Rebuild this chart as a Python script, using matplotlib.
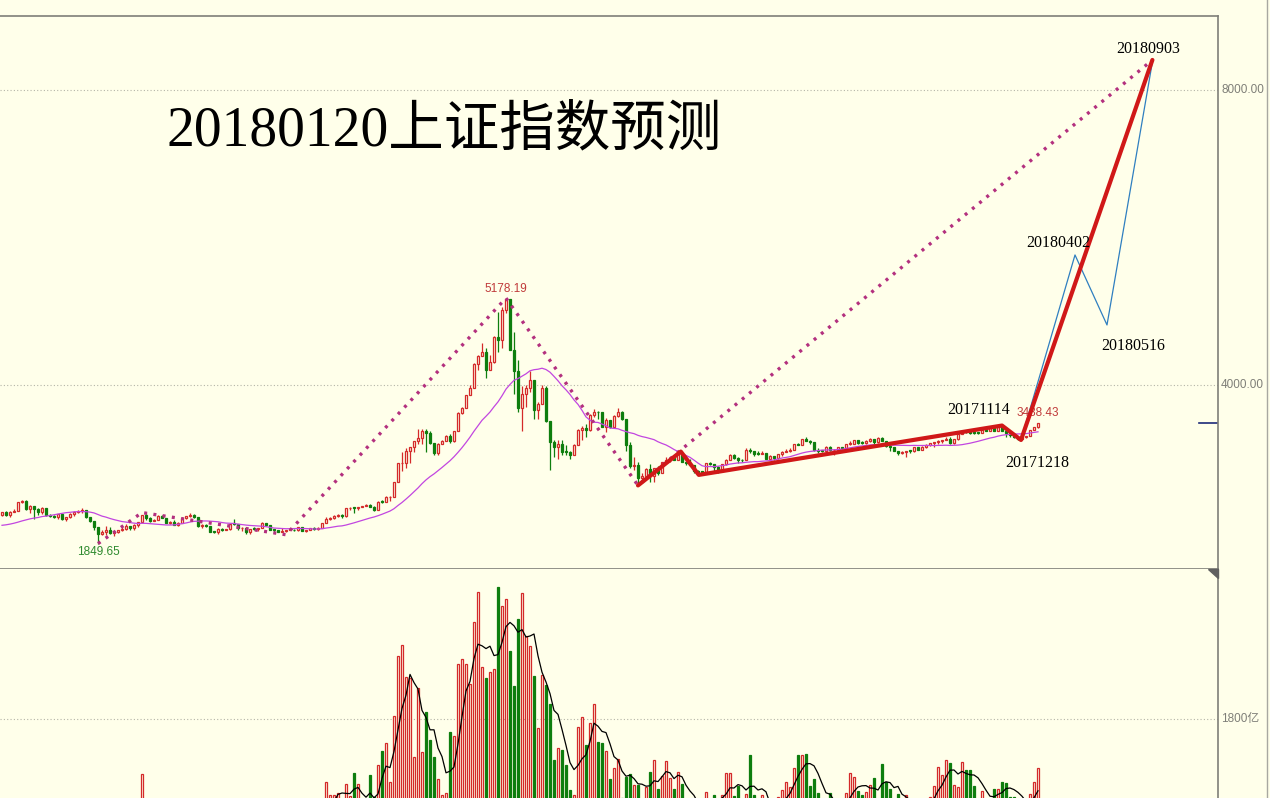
import numpy as np
import pandas as pd
import matplotlib
matplotlib.use("Agg")
import matplotlib.pyplot as plt
from matplotlib.lines import Line2D
from matplotlib.patches import Polygon
from matplotlib.transforms import blended_transform_factory

# weekly closes before 2013, only used to warm up the 20-week average
warmup_close = [2115, 2093, 2047, 2128, 2105, 2027, 2086, 2105, 2128, 2066,
                2118, 2069, 2014, 2026, 1980, 2033, 2151, 2153, 2233]

# 上证指数 weekly bars, 2013-01-04 .. 2018-01-19
close = [
    # 2013
    2276, 2243, 2284, 2292, 2419, 2432, 2314, 2359, 2318, 2278, 2328, 2237, 2225,
    2206, 2245, 2177, 2205, 2247, 2282, 2288, 2300, 2211, 2162, 2073, 1979, 2007,
    2040, 1992, 2010, 2029, 2052, 2085, 2057, 2098, 2139, 2236, 2191, 2160, 2174,
    2228, 2193, 2133, 2149, 2106, 2135, 2197, 2220, 2237, 2204, 2085, 2101,
    # 2014
    2083, 2013, 2004, 2054, 2033, 2044, 2115, 2113, 2056, 2057, 2004, 2047, 2046,
    2058, 2131, 2098, 2036, 2034, 2012, 2027, 2035, 2039, 2030, 2071, 2024, 2036,
    2059, 2046, 2059, 2127, 2186, 2194, 2226, 2240, 2217, 2327, 2331, 2329, 2347,
    2364, 2374, 2341, 2302, 2420, 2418, 2478, 2487, 2683, 2938, 2938, 3108, 3158,
    # 2015
    3234, 3285, 3376, 3351, 3210, 3076, 3203, 3247, 3310, 3241, 3373, 3617, 3691,
    3863, 3957, 4287, 4393, 4442, 4205, 4308, 4657, 4611, 5023, 5166, 4478, 4192,
    3687, 3878, 3957, 4070, 3664, 3744, 3965, 3507, 3232, 3160, 3200, 3097, 3093,
    3053, 3183, 3391, 3412, 3383, 3590, 3632, 3630, 3436, 3524, 3434, 3578, 3628,
    # 2016
    3539, 3186, 2901, 2916, 2737, 2763, 2860, 2767, 2874, 2810, 2955, 2980, 3009,
    2985, 3078, 2960, 2938, 2913, 2828, 2826, 2822, 2938, 2927, 2885, 2854, 2932,
    2989, 3054, 3013, 2979, 2977, 3125, 3108, 3070, 3068, 3079, 3003, 3033, 3005,
    3064, 3091, 3105, 3125, 3196, 3193, 3262, 3244, 3232, 3123, 3110, 3104,
    # 2017
    3154, 3113, 3123, 3159, 3140, 3197, 3203, 3253, 3218, 3213, 3237, 3269, 3223,
    3287, 3247, 3173, 3155, 3103, 3083, 3091, 3108, 3105, 3158, 3123, 3158, 3192,
    3218, 3222, 3238, 3253, 3262, 3209, 3269, 3332, 3367, 3366, 3354, 3353, 3349,
    3391, 3379, 3417, 3372, 3433, 3382, 3353, 3317, 3290, 3266, 3297, 3307,
    # 2018
    3391, 3429, 3488,
]
high = [
    2278, 2293, 2285, 2325, 2420, 2444, 2435, 2370, 2338, 2330, 2345, 2335, 2245,
    2233, 2250, 2250, 2210, 2260, 2290, 2305, 2334, 2300, 2195, 2160, 2070, 2040,
    2092, 2070, 2020, 2040, 2070, 2120, 2080, 2110, 2140, 2243, 2270, 2210, 2180,
    2240, 2240, 2200, 2160, 2170, 2145, 2210, 2225, 2260, 2245, 2200, 2110,
    2120, 2070, 2020, 2060, 2060, 2045, 2120, 2178, 2115, 2075, 2060, 2050, 2080,
    2060, 2145, 2135, 2100, 2040, 2040, 2060, 2040, 2060, 2045, 2075, 2075, 2040,
    2065, 2070, 2070, 2130, 2205, 2210, 2235, 2250, 2245, 2330, 2345, 2340, 2350,
    2365, 2390, 2392, 2360, 2430, 2440, 2500, 2490, 2690, 2945, 3090, 3140, 3160,
    3240, 3406, 3400, 3400, 3375, 3200, 3210, 3250, 3320, 3340, 3380, 3630, 3700,
    3866, 4000, 4300, 4400, 4572, 4500, 4400, 4660, 4986, 5052, 5178.19, 5140, 4720,
    4340, 3980, 4000, 4185, 4050, 3770, 4000, 3990, 3420, 3250, 3250, 3250, 3185,
    3100, 3200, 3400, 3450, 3470, 3600, 3680, 3650, 3640, 3550, 3530, 3590, 3685,
    3650, 3540, 3230, 3030, 2960, 2800, 2870, 2930, 2880, 2895, 2960, 3020, 3020,
    3040, 3095, 3097, 2960, 3000, 2900, 2850, 2840, 2940, 2950, 2930, 2900, 2935,
    3000, 3070, 3060, 3030, 2990, 3140, 3140, 3110, 3100, 3100, 3080, 3050, 3040,
    3070, 3100, 3130, 3140, 3200, 3220, 3270, 3300, 3250, 3230, 3150, 3125,
    3170, 3175, 3130, 3160, 3160, 3200, 3240, 3260, 3260, 3240, 3260, 3280, 3270,
    3290, 3296, 3240, 3180, 3160, 3110, 3110, 3110, 3120, 3160, 3160, 3170, 3195,
    3220, 3230, 3250, 3260, 3300, 3290, 3270, 3340, 3370, 3390, 3370, 3370, 3360,
    3395, 3400, 3420, 3430, 3440, 3450, 3420, 3350, 3330, 3310, 3300, 3310,
    3395, 3430, 3488.43,
]
low = [
    2225, 2230, 2205, 2275, 2290, 2400, 2308, 2270, 2180, 2240, 2250, 2230, 2215,
    2195, 2180, 2165, 2160, 2200, 2220, 2270, 2270, 2200, 2140, 2040, 1849.65, 1960,
    1960, 1985, 1950, 1990, 2020, 2040, 2040, 2040, 2080, 2140, 2170, 2140, 2155,
    2175, 2190, 2130, 2120, 2100, 2090, 2140, 2180, 2210, 2200, 2080, 2060,
    2080, 2010, 1990, 1985, 2025, 2030, 2040, 2100, 2030, 2020, 1975, 1985, 2040,
    2020, 2075, 2090, 2030, 1995, 2000, 2010, 2000, 2030, 2020, 2025, 2020, 2010,
    2040, 2040, 2040, 2055, 2125, 2170, 2180, 2210, 2195, 2215, 2300, 2260, 2310,
    2340, 2360, 2340, 2290, 2300, 2395, 2410, 2430, 2480, 2680, 2830, 2880, 2940,
    3090, 3200, 3200, 3095, 3200, 3050, 3050, 3200, 3240, 3220, 3230, 3370, 3600,
    3700, 3860, 3980, 4200, 4400, 4100, 4200, 4300, 4450, 4500, 4970, 4470, 3875,
    3630, 3374, 3700, 3900, 3540, 3540, 3750, 3500, 2850, 3020, 3000, 3050, 3050,
    3000, 3100, 3180, 3250, 3300, 3380, 3560, 3540, 3430, 3360, 3420, 3430, 3560,
    3530, 3100, 2870, 2850, 2638.3, 2680, 2750, 2680, 2690, 2780, 2800, 2960, 2950,
    2980, 2990, 2950, 2910, 2910, 2800, 2781, 2800, 2810, 2910, 2830, 2810, 2860,
    2920, 3000, 3000, 2940, 2950, 2980, 3080, 3040, 3050, 3060, 2990, 2990, 2980,
    3000, 3040, 3090, 3090, 3120, 3180, 3190, 3240, 3200, 3110, 3080, 3090,
    3100, 3110, 3045, 3120, 3135, 3140, 3180, 3200, 3200, 3200, 3200, 3230, 3190,
    3220, 3240, 3160, 3100, 3100, 3050, 3070, 3020, 3080, 3090, 3120, 3120, 3140,
    3170, 3160, 3200, 3220, 3250, 3200, 3200, 3260, 3330, 3350, 3340, 3330, 3330,
    3360, 3370, 3370, 3370, 3370, 3380, 3300, 3300, 3280, 3260, 3254.18, 3280,
    3315, 3390, 3420,
]
# weekly turnover, 亿
volume = [
    880, 760, 820, 850, 990, 940, 860, 900, 820, 760, 780, 700, 640, 620, 660, 600,
    560, 640, 700, 720, 760, 700, 560, 680, 900, 720, 700, 820, 660, 620, 650, 760,
    700, 780, 860, 1250, 980, 820, 260, 860, 900, 760, 640, 700, 800, 940, 900, 860,
    700, 720, 560, 560, 560, 520, 600, 420, 260, 700, 760, 640, 620, 600, 560, 520,
    580, 760, 640, 560, 480, 480, 520, 480, 460, 480, 560, 520, 480, 520, 600, 700,
    920, 1170, 1040, 1040, 1060, 990, 1150, 1030, 1260, 1150, 700, 950, 1240, 1020,
    1340, 1480, 1560, 1170, 1830, 2430, 2540, 2220, 2210, 1420, 2110, 1470, 1870,
    1590, 1420, 1200, 1040, 1060, 1670, 1630, 2350, 2400, 2350, 2150, 2770, 3070,
    2320, 2210, 2270, 2300, 3120, 2930, 3000, 2480, 2130, 2800, 3060, 2630, 2530,
    2230, 1710, 2240, 2140, 1950, 1390, 1510, 1490, 1340, 1090, 1040, 1720, 1820,
    1540, 1760, 1950, 1570, 1560, 1480, 1200, 1310, 1400, 1010, 1220, 1250, 1140,
    1140, 990, 1120, 1270, 1390, 1100, 1230, 1380, 1210, 1100, 1270, 1150, 960, 920,
    880, 900, 860, 1070, 940, 1040, 960, 1040, 1260, 1260, 1030, 1130, 980, 1050,
    1440, 1040, 940, 1040, 900, 860, 880, 1020, 1090, 1170, 1120, 1310, 1440, 1440,
    1450, 1130, 1200, 1060, 940, 980, 1060, 900, 860, 980, 1060, 1260, 1220, 1080,
    1040, 1070, 1140, 1210, 990, 1350, 1170, 1100, 960, 1050, 960, 1040, 940, 900,
    920, 960, 980, 1020, 1130, 1320, 1240, 1390, 1360, 1140, 1120, 1370, 1290, 1290,
    1130, 980, 1080, 960, 990, 1100, 1100, 1170, 1160, 1020, 1020, 960, 980, 900,
    1050, 1170, 1310,
]

# wave counts: week number and index level at each turning point
dotted_wave_week = [24, 35, 71, 126, 159, 287.6]
dotted_wave_val = [1849.65, 2270, 1970, 5178.19, 2638.3, 8407]
red_wave_week = [159, 169.7, 174.2, 250, 254.75, 287.6]
red_wave_val = [2638.3, 3097, 2781, 3450, 3254.18, 8407]
blue_wave_week = [254.75, 268.25, 276.25, 287.6]
blue_wave_val = [3254.18, 5763, 4814, 8380]

last_price = 3488.43
bg = "#FFFFEA"
red = "#D42A2A"
green = "#0E7E0E"
gray = "#7F7F78"

n = len(close)
x = np.arange(n)
close = np.array(close, float)
opens = np.r_[warmup_close[-1], close[:-1]]
high = np.maximum(np.array(high, float), np.maximum(opens, close))
low = np.minimum(np.array(low, float), np.minimum(opens, close))
up = close >= opens
ma20 = pd.Series(warmup_close + list(close)).rolling(20).mean().values[len(warmup_close):]
vol = np.array(volume, float)
vol_ma = pd.Series(vol).rolling(5, min_periods=1).mean().values

fig = plt.figure(figsize=(12.7, 7.98), dpi=100, facecolor=bg)
W, H = 1270.0, 798.0
ax = fig.add_axes([0, 229 / H, 1218 / W, 553 / H], facecolor=bg)
vax = fig.add_axes([0, 0, 1218 / W, 229 / H], facecolor=bg)
for a in (ax, vax):
    a.set_xlim(-0.5, 304)
    a.set_xticks([])
    a.set_yticks([])
    for s in a.spines.values():
        s.set_color(gray)
        s.set_linewidth(1.2)
    a.spines["left"].set_visible(False)
vax.spines["top"].set_visible(False)
vax.spines["bottom"].set_visible(False)
ax.set_ylim(1505, 9003)
vax.set_ylim(1010, 3300)

# candles
cols = np.where(up, red, green)
ax.vlines(x, low, high, colors=cols, lw=0.9, zorder=2)
body_lo = np.minimum(opens, close)
body_h = np.maximum(np.abs(close - opens), 10)
ax.bar(x, body_h, bottom=body_lo, width=0.72,
       color=np.where(up, bg, green), edgecolor=cols, lw=0.9, zorder=3)
ax.plot(x, ma20, color="#C246E0", lw=0.9, zorder=4)

# grid and right-hand scale
yt = blended_transform_factory(ax.transAxes, ax.transData)
for lv in (8000, 4000):
    ax.axhline(lv, color="#B4B4A8", lw=0.8, ls=(0, (1, 2)), zorder=1)
    ax.text(1.0025, lv, f"{lv:.2f}", transform=yt, va="center", ha="left",
            fontsize=8.5, color=gray, family="Liberation Sans", clip_on=False)
ax.axhline(last_price, xmin=0.984, xmax=1.0, color="#1C2A78", lw=1.2)

# wave lines
ax.plot(dotted_wave_week, dotted_wave_val, color="#B3307E", lw=2.4,
        ls=(0, (0.9, 1.9)), dash_capstyle="butt", zorder=5)
ax.plot(blue_wave_week, blue_wave_val, color="#2F7FC0", lw=0.9, zorder=6)
ax.plot(red_wave_week, red_wave_val, color="#D01818", lw=3.0,
        solid_capstyle="round", solid_joinstyle="round", zorder=7)

# labels
lbl = dict(family="Liberation Sans", fontsize=8.5, ha="center")
ax.annotate("5178.19", (126, 5178.19), xytext=(0, 2), textcoords="offset points",
            va="bottom", color="#C03A3A", **lbl)
ax.annotate("1849.65", (24, 1849.65), xytext=(0, -2), textcoords="offset points",
            va="top", color="#2E8A2E", **lbl)
ax.annotate("3488.43", (n - 1, last_price), xytext=(0, 7), textcoords="offset points",
            va="center", color="#C03A3A", zorder=5, **lbl)
dates = [("20171114", 250, 3450, -17, 11.5),
         ("20171218", 254.75, 3254.18, 11.5, -16.5),
         ("20180402", 268.25, 5763, -12, 8.6),
         ("20180516", 276.25, 4814, 18.7, -15),
         ("20180903", 287.6, 8407, -3, 8)]
for txt, wk, val, dx, dy in dates:
    ax.annotate(txt, (wk, val), xytext=(dx, dy), textcoords="offset points",
                ha="center", va="center", fontsize=11.5, color="black",
                family="Liberation Serif", zorder=8)

fig.text(444 / W, 1 - 131 / H, "20180120上证指数预测", ha="center", va="center",
         fontsize=40, color="black", family=["Liberation Serif", "Noto Sans CJK SC"])

# volume
vax.bar(x, vol, width=0.72, color=np.where(up, bg, green), edgecolor=cols,
        lw=0.9, zorder=2)
vax.plot(x, vol_ma, color="black", lw=0.9, zorder=3)
vax.axhline(1800, color="#B4B4A8", lw=0.8, ls=(0, (1, 2)), zorder=1)
vt = blended_transform_factory(vax.transAxes, vax.transData)
vax.text(1.0025, 1800, "1800亿", transform=vt, va="center", ha="left",
         fontsize=8.5, color=gray, family=["Liberation Sans", "Noto Sans CJK SC"],
         clip_on=False)

# frame pieces
fig.add_artist(Line2D([1267 / W, 1267 / W], [0, 1], color="#A8A8A0", lw=1))
fig.add_artist(Polygon([[1208 / W, 1 - 569 / H], [1218 / W, 1 - 569 / H],
                        [1218 / W, 1 - 578 / H]], closed=True,
                       color="#606060", transform=fig.transFigure))

fig.savefig("out.png", dpi=100, facecolor=bg)
